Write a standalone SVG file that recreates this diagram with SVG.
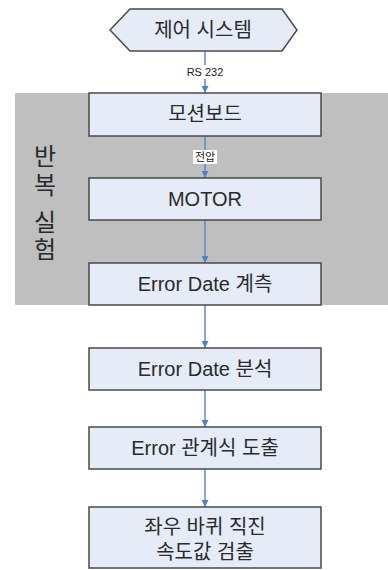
<svg xmlns="http://www.w3.org/2000/svg" width="388" height="570" viewBox="0 0 388 570">
  <defs>
    <marker id="arrow" viewBox="0 0 10 10" refX="10" refY="5" markerWidth="7" markerHeight="7" markerUnits="userSpaceOnUse" orient="auto">
      <path d="M0,0 L10,5 L0,10 z" fill="#4f81c7"/>
    </marker>
    <style>
      .box { fill: #e5ecf7; stroke: #4a4a4a; stroke-width: 1.5; }
      .lbl { font-family: "Liberation Sans", "Noto Sans CJK KR", sans-serif; font-size: 20px; fill: #2a2a2a; text-anchor: middle; }
      .side { font-family: "Liberation Sans", "Noto Sans CJK KR", sans-serif; font-size: 24px; fill: #2a2a2a; text-anchor: middle; }
      .small { font-family: "Liberation Sans", "Noto Sans CJK KR", sans-serif; font-size: 11px; fill: #222; text-anchor: middle; }
      .edge { stroke: #5a8ad0; stroke-width: 1.5; fill: none; marker-end: url(#arrow); }
    </style>
  </defs>
  <rect width="388" height="570" fill="#ffffff"/>

  <!-- loop region -->
  <g id="loop">
    <rect x="15" y="93" width="373" height="212" fill="#bfbfbf"/>
    <text class="side" x="45" y="165">반</text>
    <text class="side" x="45" y="194">복</text>
    <text class="side" x="45" y="231">실</text>
    <text class="side" x="45" y="258">험</text>
  </g>

  <g id="connectors">
    <line class="edge" x1="205" y1="51" x2="205" y2="93"/>
    <line class="edge" x1="205" y1="136" x2="205" y2="178"/>
    <line class="edge" x1="205" y1="220" x2="205" y2="263"/>
    <line class="edge" x1="205" y1="305" x2="205" y2="348"/>
    <line class="edge" x1="205" y1="390" x2="205" y2="427"/>
    <line class="edge" x1="205" y1="469" x2="205" y2="507"/>
    <rect x="185" y="65" width="40" height="14" fill="#ffffff"/>
    <text class="small" x="205" y="76">RS 232</text>
    <rect x="193" y="150" width="24" height="14" fill="#ffffff"/>
    <text class="small" x="205" y="161">전압</text>
  </g>

  <g id="control-system">
    <polygon class="box" points="110,30 130,9 282,9 297,30 282,51 130,51"/>
    <text class="lbl" x="203" y="37">제어 시스템</text>
  </g>
  <g id="motion-board">
    <rect class="box" x="89" y="93" width="232" height="43"/>
    <text class="lbl" x="205" y="121">모션보드</text>
  </g>
  <g id="motor">
    <rect class="box" x="89" y="178" width="232" height="42"/>
    <text class="lbl" x="205" y="206">MOTOR</text>
  </g>
  <g id="error-measure">
    <rect class="box" x="89" y="263" width="232" height="42"/>
    <text class="lbl" x="205" y="291">Error Date 계측</text>
  </g>
  <g id="error-analysis">
    <rect class="box" x="89" y="348" width="232" height="42"/>
    <text class="lbl" x="205" y="376">Error Date 분석</text>
  </g>
  <g id="error-relation">
    <rect class="box" x="89" y="427" width="232" height="42"/>
    <text class="lbl" x="205" y="455">Error 관계식 도출</text>
  </g>
  <g id="speed-detect">
    <rect class="box" x="89" y="507" width="232" height="61"/>
    <text class="lbl" x="205" y="534">좌우 바퀴 직진</text>
    <text class="lbl" x="205" y="559">속도값 검출</text>
  </g>
</svg>
